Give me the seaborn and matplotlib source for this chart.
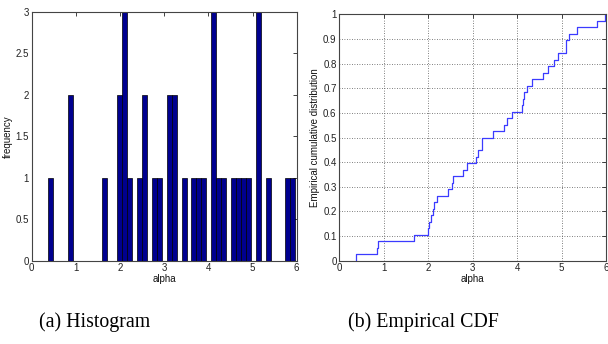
import numpy as np
import pandas as pd
import matplotlib
matplotlib.use("Agg")
import matplotlib.pyplot as plt
import seaborn as sns

# Sample values
alpha = [0.37, 0.85, 0.87, 1.69, 2.00, 2.01, 2.07, 2.10, 2.14, 2.19,
         2.44, 2.53, 2.55, 2.79, 2.88, 3.07, 3.13, 3.20, 3.22, 3.45,
         3.70, 3.78, 3.89, 4.10, 4.13, 4.15, 4.23, 4.33, 4.58, 4.69,
         4.83, 4.93, 5.09, 5.11, 5.16, 5.35, 5.79, 5.97]
n_bins = 50
hist_yticks = [0, 0.5, 1, 1.5, 2, 2.5, 3]
hist_yticklabels = ["0", "0.5", "1", "1.5", "2", "2.5", "3"]
x_ticks = [0, 1, 2, 3, 4, 5, 6]
cdf_yticks = [0, 0.1, 0.2, 0.3, 0.4, 0.5, 0.6, 0.7, 0.8, 0.9, 1]
cdf_yticklabels = ["0", "0.1", "0.2", "0.3", "0.4", "0.5", "0.6", "0.7", "0.8", "0.9", "1"]

df = pd.DataFrame({"alpha": alpha})

sns.set_style("white")
plt.rcParams["font.family"] = ["Liberation Sans", "DejaVu Sans"]
plt.rcParams["text.color"] = "black"
plt.rcParams["axes.labelcolor"] = "#111111"

fig = plt.figure(figsize=(6.08, 3.44), dpi=100)
ax1 = fig.add_axes([31.7 / 608, (344 - 260.7) / 344, 265 / 608, 249 / 344])
ax2 = fig.add_axes([339.3 / 608, (344 - 260.7) / 344, 266.7 / 608, 246.4 / 344])

# Histogram
sns.histplot(data=df, x="alpha", bins=n_bins, ax=ax1, color="#00008f",
             edgecolor="black", linewidth=0.5, alpha=1.0)
ax1.set_xlim(0, 6)
ax1.set_ylim(0, 3)
ax1.set_yticks(hist_yticks)
ax1.set_yticklabels(hist_yticklabels)
ax1.set_ylabel("frequency", fontsize=7, labelpad=2)

# Empirical CDF
sns.ecdfplot(data=df, x="alpha", ax=ax2, color="#3b3bff", linewidth=0.9)
ax2.set_xlim(0, 6)
ax2.set_ylim(0, 1)
ax2.set_yticks(cdf_yticks)
ax2.set_yticklabels(cdf_yticklabels)
ax2.set_ylabel("Empirical cumulative distribution", fontsize=7, labelpad=2)
ax2.grid(True, linestyle=(0, (1, 2)), color="#555555", linewidth=0.6)
ax2.set_axisbelow(True)

for ax in (ax1, ax2):
    ax.set_xticks(x_ticks)
    ax.set_xticklabels([str(t) for t in x_ticks])
    ax.set_xlabel("alpha", fontsize=7, labelpad=0.5)
    ax.tick_params(direction="in", length=3, width=0.6, labelsize=7,
                   top=True, right=True, pad=2, colors="#222222")
    for s in ax.spines.values():
        s.set_visible(True)
        s.set_color("#444444")
        s.set_linewidth(0.8)

fig.text(95 / 608, 1 - 322 / 344, "(a) Histogram", ha="center", va="center",
         fontsize=14.3, color="black", family=["Liberation Serif", "DejaVu Serif"])
fig.text(423 / 608, 1 - 322 / 344, "(b) Empirical CDF", ha="center", va="center",
         fontsize=14.3, color="black", family=["Liberation Serif", "DejaVu Serif"])

fig.savefig("out.png", dpi=100, facecolor="white")
